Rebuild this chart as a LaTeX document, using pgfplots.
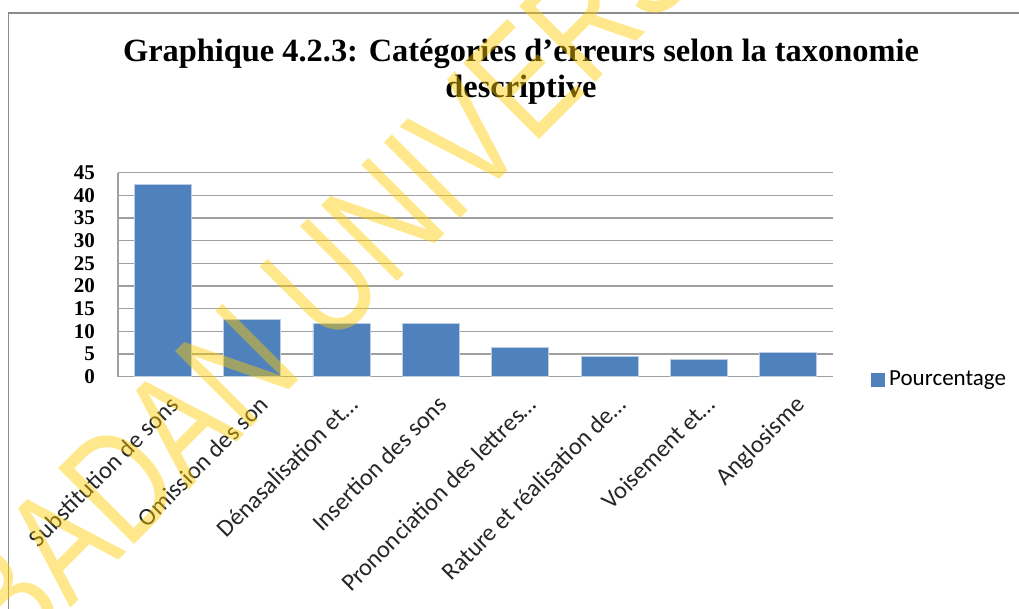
\documentclass[border=0pt]{standalone}
\usepackage{fontspec}
\setmainfont{Liberation Serif}
\newfontfamily\calibri{Carlito}
\newfontfamily\wmfont{Liberation Sans}
\usepackage{pgfplots}
\pgfplotsset{compat=1.18}
\definecolor{barblue}{HTML}{4F81BD}
\definecolor{baredge}{HTML}{B9CDE5}
\definecolor{gridgray}{HTML}{A0A0A0}
\definecolor{framegray}{HTML}{8C8C8C}
\definecolor{wmyellow}{HTML}{FFCC00}
\begin{document}
\begin{tikzpicture}
\useasboundingbox (0pt,0pt) rectangle (509.5pt,304.5pt);
\clip (0pt,0pt) rectangle (509.5pt,304.5pt);
\fill[white] (0pt,0pt) rectangle (509.5pt,304.5pt);
\draw[framegray, line width=0.75pt] (4.25pt,0pt) -- (4.25pt,298pt) -- (509.5pt,298pt);
\node[font=\fontsize{16.2}{19}\selectfont\bfseries, anchor=base, inner sep=0pt] at (260.5pt,273.5pt) {Graphique 4.2.3: Catégories d’erreurs selon la taxonomie};
\node[font=\fontsize{16.2}{19}\selectfont\bfseries, anchor=base, inner sep=0pt] at (260.5pt,255.5pt) {descriptive};
\begin{axis}[
  at={(59pt,116.15pt)}, anchor=south west,
  scale only axis, width=357.5pt, height=102pt,
  xmin=-0.5, xmax=7.5, ymin=0, ymax=45,
  ytick={0,5,...,45},
  xtick={0,...,7},
  xticklabels={Substitution de sons, Omission des son, Dénasalisation et…, Insertion des sons, Prononciation des lettres…, Rature et réalisation de…, Voisement et…, Anglosisme},
  axis lines*=left,
  axis line style={gridgray, line width=0.75pt},
  major tick length=0pt,
  ymajorgrids,
  grid style={gridgray, line width=0.75pt},
  ybar, bar width=28.5pt,
  /pgf/number format/assume math mode=true,
  yticklabel style={font=\fontsize{10.5}{12}\selectfont\bfseries, xshift=-8pt},
  xticklabel style={font=\calibri\fontsize{12.2}{14}\selectfont, rotate=45, anchor=north east, inner sep=1pt, text=black!85, yshift=-7pt, xshift=-3pt},
  legend style={draw=none, fill=none, at={(1,0)}, anchor=west, xshift=19pt, yshift=-1.6pt, inner sep=0pt,
    font=\calibri\fontsize{11.5}{13}\selectfont},
  legend image code/.code={\fill[barblue] (0pt,-3.25pt) rectangle (6.5pt,3.25pt);},
]
\addplot[fill=barblue, draw=baredge, line width=0.4pt] coordinates {
  (0,42.4) (1,12.7) (2,11.8) (3,11.8) (4,6.5) (5,4.4) (6,3.8) (7,5.4)
};
\addlegendentry{Pourcentage}
\end{axis}
\node[rotate=45, anchor=base west, font=\wmfont\fontsize{60}{60}\selectfont, text=wmyellow, opacity=0.45, inner sep=0pt] at (-5pt,-40pt) {\scalebox{1}[1.3]{IBADAN UNIVERSITY}};
\end{tikzpicture}
\end{document}
